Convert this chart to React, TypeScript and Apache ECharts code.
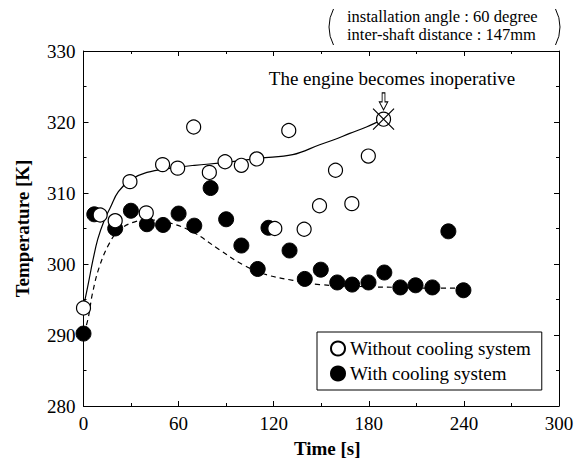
import React, { useEffect, useRef } from "react";
import * as echarts from "echarts";

const FONT = "'Liberation Serif', 'Times New Roman', serif";

// Axis setup
const X_MIN = 0;
const X_MAX = 300;
const X_STEP = 60;
const Y_MIN = 280;
const Y_MAX = 330;
const Y_STEP = 10;

// Without cooling system (open circles)
const timeWithout = [0, 10.5, 20, 29.3, 39.6, 49.9, 59.4, 69.5, 79.4, 89.3, 99.6, 109.3, 120.7, 129.5, 139.2, 148.9, 159.0, 169.3, 179.7];
const tempWithout = [293.8, 306.9, 306.1, 311.6, 307.2, 314.0, 313.5, 319.3, 312.9, 314.4, 313.9, 314.8, 305.0, 318.8, 304.9, 308.2, 313.2, 308.5, 315.2];

// With cooling system (filled circles)
const timeWith = [0, 6.8, 20, 29.9, 40, 50.2, 60, 69.9, 80.2, 90, 99.6, 109.9, 116.7, 130, 139.6, 149.7, 160.1, 169.5, 179.8, 189.8, 199.9, 209.5, 220.1, 230.2, 239.7];
const tempWith = [290.2, 307.0, 305.0, 307.5, 305.6, 305.5, 307.1, 305.4, 310.7, 306.3, 302.6, 299.3, 305.1, 301.9, 297.9, 299.2, 297.4, 297.1, 297.4, 298.8, 296.7, 297.0, 296.7, 304.6, 296.3];

// Fitted trend curves
const fitWithoutTime = [0, 3, 6, 9, 13, 17, 22, 30, 40, 55, 70, 90, 111, 132, 149, 158, 168, 178.5, 189.3];
const fitWithoutTemp = [294, 297.2, 300.6, 303.5, 306.1, 308.0, 310.2, 311.9, 312.9, 313.5, 313.9, 314.3, 314.9, 315.4, 316.8, 317.5, 318.4, 319.3, 320.4];
const fitWithTime = [0, 2.7, 5.7, 10, 16.3, 22.6, 33.3, 41.6, 54.2, 69, 85.8, 100.6, 115.4, 132.2, 149, 178.5, 200, 220, 237.5];
const fitWithTemp = [290.2, 292.1, 295.9, 299.6, 302.9, 304.8, 306.0, 306.2, 305.8, 304.5, 302.0, 299.9, 298.5, 297.7, 297.1, 296.8, 296.7, 296.6, 296.6];

// Engine becomes inoperative
const inoperativeTime = 189.3;
const inoperativeTemp = 320.4;
const arrowTemp = 322.9;

const SERIES_WITHOUT = "Without cooling system";
const SERIES_WITH = "With cooling system";

const zip = (xs: number[], ys: number[]) => xs.map((x, i) => [x, ys[i]]);

export default function App() {
  const ref = useRef<HTMLDivElement>(null);

  useEffect(() => {
    if (!ref.current) return;
    const chart = echarts.init(ref.current, null, { renderer: "svg" });

    const tickCommon = {
      axisLine: { show: true, onZero: false, lineStyle: { color: "#000", width: 1 } },
      axisTick: { show: true, inside: true, length: 5, lineStyle: { color: "#000" } },
      minorTick: { show: true, splitNumber: 2, length: 3, lineStyle: { color: "#000" } },
      splitLine: { show: false },
      minorSplitLine: { show: false },
    };

    const option: any = {
      animation: false,
      backgroundColor: "#fff",
      textStyle: { fontFamily: FONT, color: "#000" },
      grid: { left: 83.5, right: 22, top: 51, bottom: 59, containLabel: false },
      xAxis: [
        {
          type: "value",
          position: "bottom",
          min: X_MIN,
          max: X_MAX,
          interval: X_STEP,
          ...tickCommon,
          axisLabel: { color: "#000", fontSize: 19, fontFamily: FONT, margin: 8 },
          name: "Time [s]",
          nameLocation: "middle",
          nameGap: 33,
          nameTextStyle: { color: "#000", fontSize: 19, fontWeight: "bold", fontFamily: FONT, padding: [0, 0, 0, 12] },
        },
        {
          type: "value",
          position: "top",
          min: X_MIN,
          max: X_MAX,
          interval: X_STEP,
          ...tickCommon,
          axisLabel: { show: false },
        },
      ],
      yAxis: [
        {
          type: "value",
          position: "left",
          min: Y_MIN,
          max: Y_MAX,
          interval: Y_STEP,
          ...tickCommon,
          axisLabel: { color: "#000", fontSize: 19, fontFamily: FONT, margin: 8 },
          name: "Temperature [K]",
          nameLocation: "middle",
          nameGap: 52,
          nameTextStyle: { color: "#000", fontSize: 19, fontWeight: "bold", fontFamily: FONT },
        },
        {
          type: "value",
          position: "right",
          min: Y_MIN,
          max: Y_MAX,
          interval: Y_STEP,
          ...tickCommon,
          axisLabel: { show: false },
        },
      ],
      legend: {
        data: [SERIES_WITHOUT, SERIES_WITH],
        orient: "vertical",
        left: 317,
        top: 332,
        padding: [7, 11, 7, 13],
        itemGap: 6,
        itemWidth: 14,
        itemHeight: 14,
        borderColor: "#000",
        borderWidth: 1,
        borderRadius: 0,
        backgroundColor: "#fff",
        icon: "circle",
        textStyle: { fontSize: 19, color: "#000", fontFamily: FONT, lineHeight: 19 },
      },
      graphic: [
        {
          type: "text",
          x: 392,
          y: 78,
          style: {
            text: "The engine becomes inoperative",
            font: `19px ${FONT}`,
            fill: "#000",
            textAlign: "center",
            textVerticalAlign: "middle",
          },
        },
        {
          type: "text",
          x: 347,
          y: 16,
          style: {
            text: "installation angle : 60 degree",
            font: `16.5px ${FONT}`,
            lineHeight: 15,
            fill: "#000",
            textAlign: "left",
            textVerticalAlign: "middle",
          },
        },
        {
          type: "text",
          x: 347,
          y: 34,
          style: {
            text: "inter-shaft distance : 147mm",
            font: `16.5px ${FONT}`,
            lineHeight: 15,
            fill: "#000",
            textAlign: "left",
            textVerticalAlign: "middle",
          },
        },
        {
          type: "arc",
          shape: { cx: 367.25, cy: 27, r: 38.25, startAngle: Math.PI - 0.49, endAngle: Math.PI + 0.49, clockwise: true },
          style: { stroke: "#000", lineWidth: 1, fill: "none" },
        },
        {
          type: "arc",
          shape: { cx: 521.75, cy: 27, r: 38.25, startAngle: -0.49, endAngle: 0.49, clockwise: true },
          style: { stroke: "#000", lineWidth: 1, fill: "none" },
        },
      ],
      series: [
        {
          name: "fit-without",
          type: "line",
          data: zip(fitWithoutTime, fitWithoutTemp),
          smooth: 0.4,
          showSymbol: false,
          symbol: "none",
          lineStyle: { color: "#000", width: 1.2, type: "solid" },
          z: 1,
          silent: true,
        },
        {
          name: "fit-with",
          type: "line",
          data: zip(fitWithTime, fitWithTemp),
          smooth: 0.4,
          showSymbol: false,
          symbol: "none",
          lineStyle: { color: "#000", width: 1.2, type: [5, 4] },
          z: 1,
          silent: true,
        },
        {
          name: SERIES_WITH,
          type: "scatter",
          data: zip(timeWith, tempWith),
          symbol: "circle",
          symbolSize: 15,
          itemStyle: { color: "#000", borderColor: "#000", borderWidth: 1, opacity: 1 },
          z: 3,
        },
        {
          name: SERIES_WITHOUT,
          type: "scatter",
          data: zip(timeWithout, tempWithout),
          symbol: "circle",
          symbolSize: 14,
          itemStyle: { color: "#fff", borderColor: "#000", borderWidth: 1.2, opacity: 1 },
          z: 4,
        },
        {
          name: "inoperative",
          type: "scatter",
          data: [[inoperativeTime, inoperativeTemp]],
          symbol: "circle",
          symbolSize: 14,
          itemStyle: { color: "#fff", borderColor: "#000", borderWidth: 1.2, opacity: 1 },
          z: 5,
          silent: true,
        },
        {
          name: "inoperative-cross",
          type: "scatter",
          data: [[inoperativeTime, inoperativeTemp]],
          symbol: "path://M0,0L20,20M20,0L0,20",
          symbolSize: 21,
          itemStyle: { color: "none", borderColor: "#000", borderWidth: 1.2, opacity: 1 },
          z: 6,
          silent: true,
        },
        {
          name: "inoperative-arrow",
          type: "scatter",
          data: [[inoperativeTime, arrowTemp]],
          symbol: "path://M4,0L8,0L8,9L12,9L6,17L0,9L4,9Z",
          symbolSize: [12, 17],
          symbolKeepAspect: true,
          itemStyle: { color: "#fff", borderColor: "#000", borderWidth: 1, opacity: 1 },
          z: 6,
          silent: true,
        },
      ],
    };

    chart.setOption(option);
    return () => chart.dispose();
  }, []);

  return (
    <div
      ref={ref}
      style={{ position: "fixed", left: 0, top: 0, width: 581, height: 465, background: "#fff" }}
    />
  );
}
